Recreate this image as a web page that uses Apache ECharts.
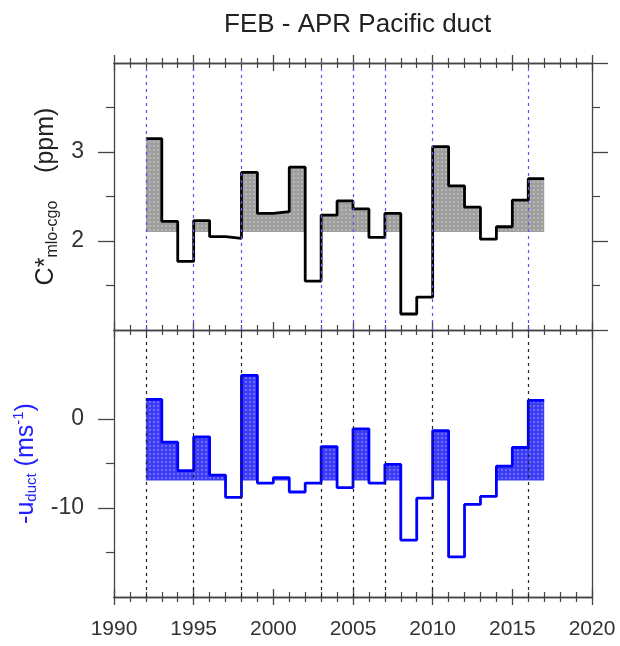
<!DOCTYPE html>
<html>
<head>
<meta charset="utf-8">
<script src="https://cdn.jsdelivr.net/npm/echarts@6/dist/echarts.min.js"></script>
<style>
  html, body { margin: 0; padding: 0; background: #fff; }
  #chart { width: 620px; height: 646px; }
</style>
</head>
<body>
<div id="chart"></div>
<script>
// years (each value holds for one year, drawn as a step)
var years = [1992, 1993, 1994, 1995, 1996, 1997, 1998, 1999, 2000, 2001, 2002, 2003, 2004,
             2005, 2006, 2007, 2008, 2009, 2010, 2011, 2012, 2013, 2014, 2015, 2016];
// C* mlo-cgo (ppm)
var cVals = [3.15, 2.22, 1.77, 2.23, 2.05, 2.03, 2.77, 2.31, 2.33, 2.83, 1.55, 2.29, 2.45,
             2.36, 2.04, 2.31, 1.18, 1.37, 3.06, 2.62, 2.38, 2.02, 2.16, 2.46, 2.70];
// -u duct (m/s)
var uVals = [2.2, -2.6, -5.8, -2.0, -6.3, -8.8, 4.9, -7.2, -6.6, -8.2, -7.2, -3.1, -7.7,
             -1.1, -7.2, -5.1, -13.6, -8.9, -1.3, -15.5, -9.6, -8.7, -5.3, -3.2, 2.1];
var cBase = 2.1;
var uBase = -6.9;
// dashed year markers
var markYears = [1992, 1995, 1998, 2003, 2005, 2007, 2010, 2016];

function steps(vals, floor) {
    var pts = years.map(function (y, i) {
        return [y, floor === undefined ? vals[i] : Math.max(vals[i], floor)];
    });
    var last = pts[pts.length - 1];
    pts.push([last[0] + 1, last[1]]);
    return pts;
}

function dots(bg, dot) {
    var c = document.createElement('canvas');
    c.width = 4; c.height = 4;
    var ctx = c.getContext('2d');
    ctx.fillStyle = bg;
    ctx.fillRect(0, 0, 4, 4);
    ctx.fillStyle = dot;
    ctx.fillRect(1, 1, 2, 2);
    return c;
}

var axisCol = '#444';
var font = 'Liberation Sans, Arial, sans-serif';

function xAx(grid, pos, inside, labels) {
    return {
        type: 'value', gridIndex: grid, position: pos, min: 1990, max: 2020, interval: 5,
        axisLine: { show: true, onZero: false, lineStyle: { color: axisCol, width: 1.3 } },
        axisTick: { show: true, inside: inside, length: 8, lineStyle: { color: axisCol, width: 1.3 } },
        minorTick: { show: true, splitNumber: 5, length: 5, lineStyle: { color: axisCol, width: 1.2 } },
        axisLabel: {
            show: !!labels, margin: 22, fontSize: 21, color: '#333', fontFamily: font,
            formatter: function (v) { return String(v); }
        },
        splitLine: { show: false }
    };
}

function yAx(grid, pos, min, max, itv, opt) {
    var a = {
        type: 'value', gridIndex: grid, position: pos, min: min, max: max, interval: itv,
        axisLine: { show: true, onZero: false, lineStyle: { color: axisCol, width: 1.3 } },
        axisTick: { show: true, length: 16, lineStyle: { color: axisCol, width: 1.3 } },
        axisLabel: { show: false },
        splitLine: { show: false }
    };
    return Object.assign(a, opt || {});
}

var chart = echarts.init(document.getElementById('chart'));

var option = {
    animation: false,
    backgroundColor: '#fff',
    title: {
        text: 'FEB - APR Pacific duct',
        left: 219, top: 7,
        textStyle: { fontSize: 26, fontWeight: 'normal', color: '#222', fontFamily: font }
    },
    grid: [
        { left: 114, top: 63, width: 478, height: 267 },
        { left: 114, top: 330, width: 478, height: 267 }
    ],
    xAxis: [
        xAx(0, 'top', true),
        xAx(0, 'top', false),
        xAx(0, 'bottom', true),
        xAx(1, 'top', true),
        xAx(1, 'bottom', true),
        xAx(1, 'bottom', false, true)
    ],
    yAxis: [
        yAx(0, 'left', 1, 4, 1, {
            axisTick: { show: true, length: 16, customValues: [2, 3], lineStyle: { color: axisCol, width: 1.3 } },
            axisLabel: { show: true, customValues: [2, 3], margin: 30, fontSize: 23, color: '#333', fontFamily: font },
            name: '{m|C*}{s|mlo-cgo}{m|    (ppm)}',
            nameLocation: 'middle', nameRotate: 90, nameGap: 52,
            nameTextStyle: {
                color: '#222', fontFamily: font,
                rich: {
                    m: { fontSize: 25, lineHeight: 28, fontFamily: font, color: '#222' },
                    s: { fontSize: 16, lineHeight: 14, verticalAlign: 'bottom', fontFamily: font, color: '#222' }
                }
            }
        }),
        yAx(0, 'left', 1, 4, 1, {
            axisLine: { show: false },
            axisTick: { show: true, length: 8, customValues: [1.5, 2.5, 3.5], lineStyle: { color: axisCol, width: 1.2 } }
        }),
        yAx(0, 'right', 1, 4, 1, {
            minorTick: { show: true, splitNumber: 2, length: 8, lineStyle: { color: axisCol, width: 1.2 } }
        }),
        yAx(1, 'left', -20, 10, 10, {
            axisTick: { show: true, length: 16, customValues: [-10, 0], lineStyle: { color: axisCol, width: 1.3 } },
            axisLabel: { show: true, customValues: [-10, 0], margin: 30, fontSize: 23, color: '#333', fontFamily: font },
            name: '{m|-u}{s|duct}{m| (ms}{p|-1}{m|)}',
            nameLocation: 'middle', nameRotate: 90, nameGap: 70,
            nameTextStyle: {
                color: '#2222ff', fontFamily: font,
                rich: {
                    m: { fontSize: 25, lineHeight: 28, fontFamily: font, color: '#2222ff' },
                    s: { fontSize: 15, lineHeight: 14, verticalAlign: 'bottom', fontFamily: font, color: '#2222ff' },
                    p: { fontSize: 15, lineHeight: 14, verticalAlign: 'top', fontFamily: font, color: '#2222ff' }
                }
            }
        }),
        yAx(1, 'left', -20, 10, 10, {
            axisLine: { show: false },
            axisTick: { show: true, length: 8, customValues: [-15, -5], lineStyle: { color: axisCol, width: 1.2 } }
        }),
        yAx(1, 'right', -20, 10, 10, { axisTick: { show: false } })
    ],
    series: [
        {
            type: 'line', xAxisIndex: 0, yAxisIndex: 0, step: 'end', symbol: 'none', silent: true, z: 1,
            data: steps(cVals, cBase),
            lineStyle: { width: 0 },
            areaStyle: { origin: cBase, opacity: 1, color: { image: dots('#9e9e9e', '#b6b6b6'), repeat: 'repeat' } },
            markLine: {
                silent: true, symbol: 'none', label: { show: false },
                lineStyle: { color: '#5555ee', type: [3, 4], width: 1.2 },
                data: markYears.map(function (y) { return { xAxis: y }; })
            }
        },
        {
            type: 'line', xAxisIndex: 0, yAxisIndex: 0, step: 'end', symbol: 'none', z: 3,
            data: steps(cVals),
            lineStyle: { color: '#000', width: 2.8 }
        },
        {
            type: 'line', xAxisIndex: 3, yAxisIndex: 3, step: 'end', symbol: 'none', silent: true, z: 1,
            data: steps(uVals, uBase),
            lineStyle: { width: 0 },
            areaStyle: { origin: uBase, opacity: 1, color: { image: dots('#3c3cf4', '#6a6aff'), repeat: 'repeat' } },
            markLine: {
                silent: true, symbol: 'none', label: { show: false },
                lineStyle: { color: '#222', type: [3, 4], width: 1.2 },
                data: markYears.map(function (y) { return { xAxis: y }; })
            }
        },
        {
            type: 'line', xAxisIndex: 3, yAxisIndex: 3, step: 'end', symbol: 'none', z: 3,
            data: steps(uVals),
            lineStyle: { color: '#0000ff', width: 2.8 }
        }
    ]
};

chart.setOption(option);
</script>
</body>
</html>
